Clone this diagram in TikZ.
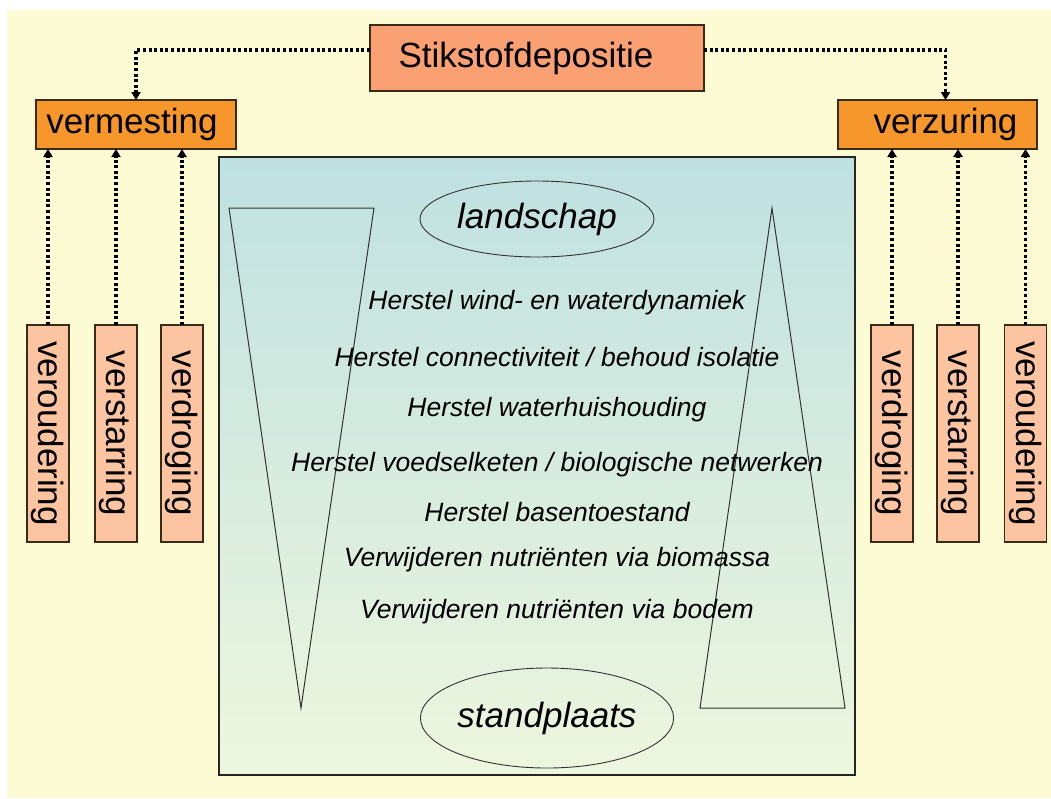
\documentclass[tikz,border=0pt]{standalone}
\usepackage{fontspec}
\setmainfont{Liberation Sans}
\usepackage{graphicx}
\usetikzlibrary{arrows.meta,shapes.geometric}
\definecolor{bgy}{HTML}{FCFBD3}
\definecolor{salmon}{HTML}{FAA073}
\definecolor{orangebox}{HTML}{F7962A}
\definecolor{peach}{HTML}{FCC4A0}
\definecolor{paneltop}{HTML}{BFE1E1}
\definecolor{panelbot}{HTML}{EEF6DE}
\definecolor{edge}{HTML}{3A2A1A}
\begin{document}
\begin{tikzpicture}[x=1pt,y=-1pt,
  boxstyle/.style={draw=edge, line width=1.3pt, inner sep=0pt, outer sep=0pt},
  dotarrow/.style={line width=3.5pt, dash pattern=on 3pt off 2.6pt, -{Triangle[length=8pt,width=9pt]}},
  vbox/.style={boxstyle, fill=peach, minimum width=42pt, minimum height=217pt},
  itext/.style={font=\fontsize{26.5}{30}\selectfont\itshape},
  ell/.style={ellipse, draw=black!80, line width=0.9pt, inner sep=0pt, font=\fontsize{35}{42}\selectfont\itshape},
  shapeline/.style={draw=black!80, line width=1pt}
]
\useasboundingbox (0,0) rectangle (1051,798);
\fill[bgy] (7,10) rectangle (1051,798);

% central panel
\node[boxstyle, draw=black!85, line width=1.1pt, top color=paneltop, bottom color=panelbot,
      minimum width=636pt, minimum height=618pt] (panel) at (537,466) {};

% triangles
\draw[shapeline] (229,208) -- (374,208) -- (301,708) -- cycle;
\draw[shapeline] (772,208) -- (845,708) -- (700,708) -- cycle;

% ellipses
\node[ell, minimum width=234pt, minimum height=76pt] (land) at (537,219) {landschap};
\node[ell, minimum width=238pt, minimum height=100pt] (stand) at (547,718) {standplaats};

% measures
\node[itext] (t1) at (557,303) {Herstel wind- en waterdynamiek};
\node[itext] (t2) at (557,357) {Herstel connectiviteit / behoud isolatie};
\node[itext] (t3) at (557,410) {Herstel waterhuishouding};
\node[itext] (t4) at (557,465) {Herstel voedselketen / biologische netwerken};
\node[itext] (t5) at (557,512) {Herstel basentoestand};
\node[itext] (t6) at (557,560) {Verwijderen nutri\"enten via biomassa};
\node[itext] (t7) at (557,612) {Verwijderen nutri\"enten via bodem};

% top boxes
\node[boxstyle, fill=salmon, minimum width=334pt, minimum height=66pt,
      font=\fontsize{35}{42}\selectfont] (stik) at (537,58) {\raisebox{4pt}{Stikstofdepositie}\hspace*{22pt}};
\node[boxstyle, fill=orangebox, minimum width=200pt, minimum height=49pt,
      font=\fontsize{35}{42}\selectfont] (verm) at (136,124.5) {\raisebox{2pt}{vermesting}\hspace*{8pt}};
\node[boxstyle, fill=orangebox, minimum width=199pt, minimum height=49pt,
      font=\fontsize{35}{42}\selectfont] (verz) at (937.5,124.5) {\hspace*{16pt}verzuring};

% vertical boxes left
\node[vbox] (l1) at (48,433.5) {\rotatebox{-90}{\fontsize{35}{40}\selectfont veroudering}};
\node[vbox] (l2) at (116,433.5) {\rotatebox{-90}{\fontsize{35}{40}\selectfont verstarring}};
\node[vbox] (l3) at (182,433.5) {\rotatebox{-90}{\fontsize{35}{40}\selectfont verdroging}};
% vertical boxes right
\node[vbox] (r1) at (892,433.5) {\rotatebox{-90}{\fontsize{35}{40}\selectfont verdroging}};
\node[vbox] (r2) at (958,433.5) {\rotatebox{-90}{\fontsize{35}{40}\selectfont verstarring}};
\node[vbox] (r3) at (1025.5,433.5) {\rotatebox{-90}{\fontsize{35}{40}\selectfont veroudering}};

% connectors
\draw[dotarrow] ([yshift=8pt]stik.west) -| (verm.north);
\draw[dotarrow] ([yshift=8pt]stik.east) -| ([xshift=8pt]verz.north);
\foreach \b in {l1,l2,l3}{
  \draw[dotarrow] (\b.north) -- (\b.north |- verm.south);
}
\foreach \b in {r1,r2,r3}{
  \draw[dotarrow] (\b.north) -- (\b.north |- verz.south);
}
\end{tikzpicture}
\end{document}
